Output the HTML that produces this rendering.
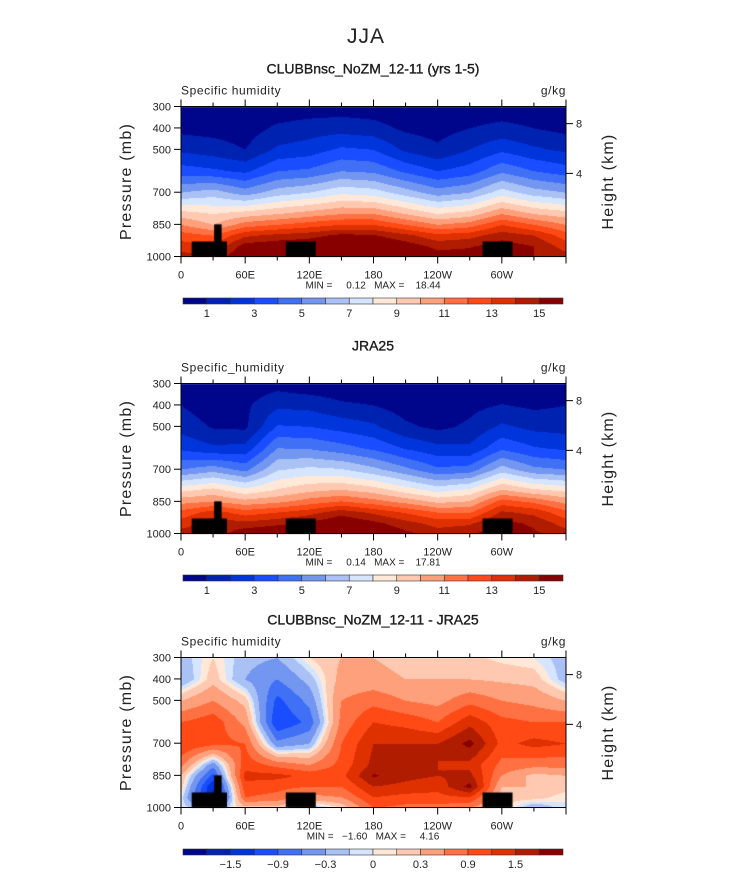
<!DOCTYPE html>
<html><head><meta charset="utf-8"><style>
html,body{margin:0;padding:0;background:#fff;}
#wrap{position:relative;width:733px;height:872px;overflow:hidden;}
canvas,svg{position:absolute;left:0;top:0;}
text{font-family:"Liberation Sans",sans-serif;fill:#222;white-space:pre;}
</style></head><body>
<div id="wrap">
<canvas id="cv" width="733" height="872"></canvas>
<svg id="sv" width="733" height="872"></svg>
</div>
<script>
// ---- data ----
const lons = [0,30,60,90,120,150,180,210,240,270,300,330,360];
const levels = [300,400,500,600,700,800,850,900,950,1000];
const modelQ = [
 [0.2,0.7,1.8,3.5,6,9.5,11,12.5,13.5,14.5],
 [0.2,0.6,1.5,3.2,6.5,9,10,12,13,14],
 [0.2,0.5,1.0,2.8,5.5,9.5,11.5,13.8,15.5,16.5],
 [0.3,1.2,2.2,4,6.5,10,12,14.3,15.8,17],
 [0.4,1.5,2.5,4.2,7,10.5,12.5,14.6,16,17],
 [0.5,1.6,3.2,5,7.8,11,13,15.3,16.5,17.2],
 [0.4,1.4,3,4.8,7.5,11,13,15.1,16.3,17],
 [0.2,0.8,1.8,3.8,6.5,10,12,14.3,15.6,16.5],
 [0.2,0.6,1.2,3,5.5,9,11,13.3,14.7,15.5],
 [0.3,1.0,2,3.5,6,9.5,11.5,13.6,14.9,15.5],
 [0.4,1.3,2.8,4.8,7.5,11,13,14.6,15.5,16],
 [0.3,1.0,2.2,4,6.5,10,12,14,15,15],
 [0.2,0.7,1.8,3.5,6,9.5,11,12.5,13.5,14.5]];
const obsQ = [
 [0.4,1.0,1.6,2.8,5,8.9,10.7,12.3,13.5,14.5],
 [0.1,0.4,0.9,2.2,5.6,9.5,11,13.5,14.6,14.3],
 [0.4,0.8,0.8,2.3,4.7,8.5,10.4,12.5,14.3,15.8],
 [0.6,1.8,3.1,5,6.9,9.2,10.8,13,14.7,16.2],
 [0.3,1.7,3,4.9,7.3,9.9,11.5,13.6,15.2,16.6],
 [0.2,1.2,2.6,4.4,7.1,10.2,12.1,14.6,16,16.9],
 [0.1,1.0,2.2,3.8,6.3,9.7,11.45,13.8,15.3,16.3],
 [0.0,0.5,1.2,2.9,5.3,8.7,10.7,12.9,14.4,15.3],
 [0.0,0.3,0.75,2.3,4.2,7.8,9.8,12,13.6,14.5],
 [0.15,0.7,1.2,2.2,4.45,8.4,10.1,11.9,13.8,14.9],
 [0.35,1.05,2.2,3.8,6.5,10.3,12.5,14.2,15.35,15.8],
 [0.3,0.8,1.7,3.1,5.3,9.4,11.8,13.7,14.8,15.2],
 [0.4,1.0,1.6,2.8,5,8.9,10.7,12.3,13.5,14.5]];
const diffQ = [
 [-0.2,-0.3,0.3,0.9,1.2,0.7,0.3,0.2,0,0],
 [0.1,0.2,0.6,1.1,1.0,-0.5,-1,-1.5,-1.6,-0.3],
 [-0.2,-0.3,0.2,0.5,0.9,1.1,1.3,1.1,0.9,0.2],
 [-0.3,-0.6,-1.0,-1.2,-0.5,0.8,1.3,1.0,0.8,0.2],
 [0.1,-0.2,-0.5,-0.8,-0.3,0.6,1.1,0.9,0.5,-0.3],
 [0.3,0.4,0.6,0.7,0.9,1.0,1.1,0.9,0.6,0.1],
 [0.3,0.4,0.8,1.2,1.5,1.6,1.85,1.5,1.2,0.9],
 [0.2,0.3,0.6,1.1,1.5,1.55,1.6,1.4,1.1,0.8],
 [0.2,0.3,0.5,0.9,1.5,1.5,1.5,1.3,1.1,0.8],
 [0.15,0.3,0.8,1.4,1.9,1.4,1.6,1.9,1.2,0.6],
 [0.05,0.25,0.6,1.0,1.1,0.8,0.6,0.3,0.15,0.2],
 [0.0,0.2,0.5,0.9,1.3,0.7,0.2,0.3,0.2,-0.3],
 [-0.2,-0.2,0.3,0.9,1.2,0.7,0.3,0.2,0,0]];
const qLevels = [1,2,3,4,5,6,7,8,9,10,11,12,13,14,15];
const qLabels = ["1","3","5","7","9","11","13","15"];
const dLevels = [-1.8,-1.5,-1.2,-0.9,-0.6,-0.3,-0.1,0,0.1,0.3,0.6,0.9,1.2,1.5,1.8];
const dLabels = ["\u22121.5","\u22120.9","\u22120.3","0","0.3","0.9","1.5"];
const colors = ["#00068c","#0022b0","#0035db","#1a4dff","#3f70f5","#7396f0","#a9c1f5","#d5e5ff","#ffe8d8","#ffc9b1","#ffa07c","#ff7142","#ff4a16","#df3000","#b01c00","#890000"];
const xTickVals=[0,60,120,180,240,300];
const xTickLabels=["0","60E","120E","180","120W","60W"];
const pTicks=[300,400,500,700,850,1000];
const hTicks=[{km:8,p:380},{km:4,p:612}];
const topo=[{l0:10,l1:43,p:930},{l0:31,l1:38,p:850},{l0:98,l1:126,p:930},{l0:282,l1:310,p:930}];

// ---- geometry ----
const X0=181,X1=566,H=150;
const panels=[
 {top:106.5,data:modelQ,lev:qLevels,lab:qLabels,labIdx:[0,2,4,6,8,10,12,14],title:"CLUBBnsc_NoZM_12-11 (yrs 1-5)",var:"Specific humidity",mm:"MIN =     0.12   MAX =    18.44",cb:298},
 {top:383.5,data:obsQ,lev:qLevels,lab:qLabels,labIdx:[0,2,4,6,8,10,12,14],title:"JRA25",var:"Specific_humidity",mm:"MIN =     0.14   MAX =    17.81",cb:575},
 {top:657.5,data:diffQ,lev:dLevels,lab:dLabels,labIdx:[1,3,5,7,9,11,13],title:"CLUBBnsc_NoZM_12-11 - JRA25",var:"Specific humidity",mm:"MIN =   \u22121.60   MAX =     4.16",cb:849}];
const xs=l=>X0+(X1-X0)*l/360;
const ys=(pn,p)=>pn.top+H*(p-300)/700;

function sample(g,lon,p){
  let i=Math.min(lons.length-2,Math.max(0,Math.floor(lon/30)));
  let tx=(lon-lons[i])/30;
  let j=0;while(j<levels.length-2&&p>levels[j+1])j++;
  let ty=(p-levels[j])/(levels[j+1]-levels[j]);
  tx=Math.max(0,Math.min(1,tx));ty=Math.max(0,Math.min(1,ty));
  const a=g[i][j],b=g[i+1][j],c=g[i][j+1],d=g[i+1][j+1];
  return a*(1-tx)*(1-ty)+b*tx*(1-ty)+c*(1-tx)*ty+d*tx*ty;
}
function band(v,lev){let k=0;while(k<lev.length&&v>=lev[k])k++;return k;}
function hex(c){return [parseInt(c.substr(1,2),16),parseInt(c.substr(3,2),16),parseInt(c.substr(5,2),16)];}
const rgb=colors.map(hex);

const cv=document.getElementById('cv'),ctx=cv.getContext('2d');
ctx.fillStyle='#fff';ctx.fillRect(0,0,733,872);
panels.forEach(pn=>{
  const y0=Math.round(pn.top),w=X1-X0,img=ctx.createImageData(w,H);
  for(let py=0;py<H;py++){const p=300+700*(py+0.5)/H;
    for(let px=0;px<w;px++){const lon=360*(px+0.5)/w;
      const c=rgb[band(sample(pn.data,lon,p),pn.lev)];const o=(py*w+px)*4;
      img.data[o]=c[0];img.data[o+1]=c[1];img.data[o+2]=c[2];img.data[o+3]=255;}}
  ctx.putImageData(img,X0,y0);
  ctx.fillStyle='#000';
  topo.forEach(t=>{const ya=ys(pn,t.p);ctx.fillRect(xs(t.l0),ya,xs(t.l1)-xs(t.l0),pn.top+H-ya);});
});

const NS='http://www.w3.org/2000/svg',sv=document.getElementById('sv');
function el(tag,attrs,txt){const e=document.createElementNS(NS,tag);for(const k in attrs)e.setAttribute(k,attrs[k]);if(txt!==undefined)e.textContent=txt;sv.appendChild(e);return e;}
let e=el('text',{x:366,y:43,'text-anchor':'middle','font-size':21,'font-weight':'300',fill:'#555','letter-spacing':'1'},'JJA');


panels.forEach((pn,pi)=>{
  const t=pn.top,b=t+H;
  e=el('text',{x:373,y:t-33,'text-anchor':'middle','font-size':14,fill:'#000',stroke:'#000','stroke-width':0.3},pn.title);
  
  
  e=el('text',{x:181,y:t-12,'font-size':12,fill:'#333','letter-spacing':'0.6'},pn.var);
  
  
  e=el('text',{x:566,y:t-12,'text-anchor':'end','font-size':12,fill:'#333','letter-spacing':'0.6'},'g/kg');
  
  
  e=el('rect',{x:X0,y:t,width:X1-X0,height:H,fill:'none',stroke:'#000','stroke-width':1});
  
  
  for(let l=0;l<=360;l+=30){const maj=l%60===0,len=maj?7:4;
    e=el('path',{d:`M${xs(l)},${b}v${len}M${xs(l)},${t}v${-len}`,stroke:'#000','stroke-width':1});
    
    }
  xTickVals.forEach((l,i)=>{e=el('text',{x:xs(l),y:b+22,'text-anchor':'middle','font-size':11,fill:'#333'},xTickLabels[i]);
    
    });
  pTicks.forEach(p=>{const y=ys(pn,p);
    e=el('path',{d:`M${X0},${y}h-7`,stroke:'#000'});
    
    
    e=el('text',{x:X0-10,y:y+4,'text-anchor':'end','font-size':11,fill:'#333'},String(p));
    
    });
  hTicks.forEach(h=>{const y=ys(pn,h.p);
    e=el('path',{d:`M${X1},${y}h7`,stroke:'#000'});
    
    
    e=el('text',{x:X1+10,y:y+4,'font-size':11,fill:'#333'},String(h.km));
    
    });
  e=el('text',{x:131,y:t+H/2,'text-anchor':'middle','font-size':16,fill:'#666','letter-spacing':'1.2',transform:`rotate(-90 131 ${t+H/2})`},'Pressure (mb)');
  
  
  e=el('text',{x:613,y:t+H/2,'text-anchor':'middle','font-size':16,fill:'#666','letter-spacing':'1.2',transform:`rotate(-90 613 ${t+H/2})`},'Height (km)');
  
  
  e=el('text',{x:373,y:b+32,'text-anchor':'middle','font-size':10,fill:'#333'},pn.mm);
  
  
  const cx0=183,cx1=563,cw=(cx1-cx0)/colors.length;
  colors.forEach((c,i)=>{e=el('rect',{x:cx0+i*cw,y:pn.cb,width:cw,height:6,fill:c,stroke:'#333','stroke-width':0.6});
    
    });
  pn.labIdx.forEach((k,i)=>{e=el('text',{x:cx0+(k+1)*cw,y:pn.cb+19,'text-anchor':'middle','font-size':11,fill:'#333'},pn.lab[i]);
    
    });
});
</script>
</body></html>
